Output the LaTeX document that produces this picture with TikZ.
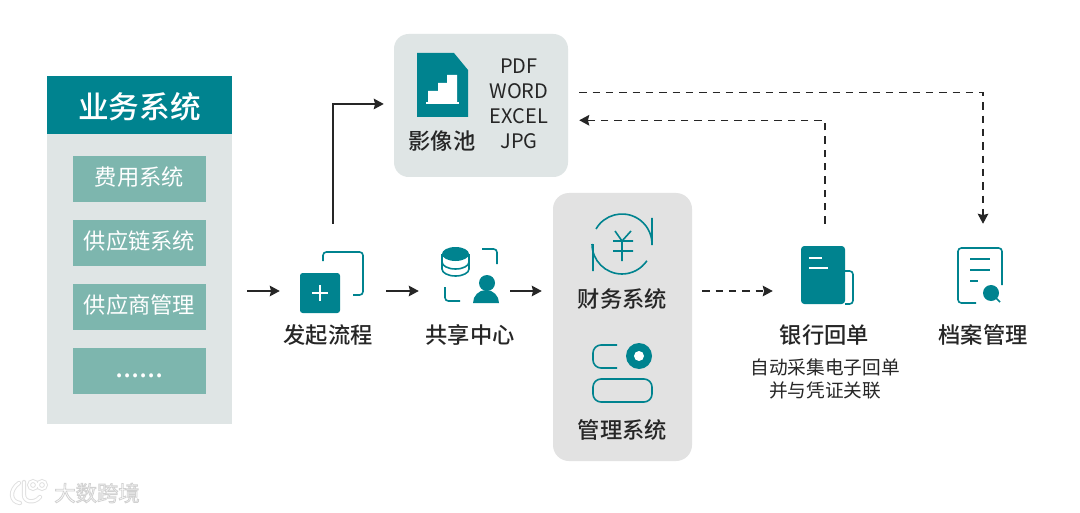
\documentclass[tikz,border=0pt]{standalone}
\usepackage{fontspec}
\setmainfont{Noto Sans CJK SC}
\newfontfamily\medfont{Noto Sans CJK SC Medium}
\definecolor{tealmain}{RGB}{0, 131, 143}
\definecolor{tealsoft}{RGB}{125, 182, 174}
\definecolor{palegrey}{RGB}{223, 229, 229}
\definecolor{softgrey}{RGB}{226, 226, 226}
\definecolor{inkdark}{RGB}{38, 38, 38}
\usetikzlibrary{arrows.meta}
\def\px{0.75pt}

\begin{document}
\begin{tikzpicture}[
    x=0.75pt, y=-0.75pt,
    arr/.style={-{Stealth[length=7.5pt,width=8pt,inset=1pt]}, inkdark, line width=0.9pt},
    dsh/.style={arr, dash pattern=on 5.5pt off 4.5pt},
    slot/.style={minimum width=#1*\px, minimum height=134*\px, inner sep=0pt},
    sub/.style={fill=tealsoft, text=white, minimum width=133*\px, minimum height=46*\px,
                inner sep=0pt, text depth=3.8pt, font=\fontsize{16.7}{18}\selectfont},
    lbl/.style={text=inkdark, inner sep=0pt, font=\fontsize{16.7}{18}\medfont},
    note/.style={text=inkdark, inner sep=0pt, font=\fontsize{14}{16}\selectfont},
    fmt/.style={text=inkdark, inner sep=0pt, font=\fontsize{15}{17}\selectfont},
    ico/.style={draw=tealmain, line width=1.2pt, rounded corners=2.5pt},
    wm/.style={inner sep=0pt, font=\fontsize{16}{18}\selectfont}
  ]
    \fill[white] (0,0) rectangle (1080,513);
    \useasboundingbox (0,0) rectangle (1080,513);

    \node[fill=palegrey, minimum width=185*\px, minimum height=348*\px, inner sep=0pt]
      (sys) at (139.5,250) {};
    \node[fill=tealmain, minimum width=185*\px, minimum height=58*\px, inner sep=0pt]
      (syshead) at (139.5,105) {};
    \node[text=white, inner sep=0pt, font=\fontsize{23}{25}\medfont]
      (systitle) at (139.5,106.5) {业务系统};
    \node[sub] (fee) at (139.5,179) {费用系统};
    \node[sub] (chain) at (139.5,243) {供应链系统};
    \node[sub] (vendor) at (139.5,307) {供应商管理};
    \node[sub, text height=10pt, text depth=0pt, font=\fontsize{22}{24}\selectfont]
      (more) at (139.5,371) {......};

    \node[fill=palegrey, rounded corners=11pt, minimum width=174*\px, minimum height=143*\px]
      (imgbox) at (481,105.5) {};
    \node[fill=softgrey, rounded corners=12pt, minimum width=139*\px, minimum height=268*\px]
      (finbox) at (622.5,327) {};

    \node[slot=200] (sysport) at (147,291) {};
    \node[slot=106] (start) at (333,291) {};
    \node[slot=91] (share) at (464.5,291) {};
    \node[slot=160] (fin) at (622,291) {};
    \node[slot=104] (bank) at (825,291) {};
    \node[slot=40] (arch) at (983,291) {};
    \node[minimum width=195*\px, minimum height=27*\px, inner sep=0pt] (imgport) at (481.5,106.5) {};

    \node[lbl] (imglbl) at (442,141) {影像池};
    \node[fmt] (pdf) at (519,66) {PDF};
    \node[fmt] (word) at (519,91) {WORD};
    \node[fmt] (excel) at (519,116) {EXCEL};
    \node[fmt] (jpg) at (519,141) {JPG};
    \node[lbl] (startlbl) at (328,335) {发起流程};
    \node[lbl] (sharelbl) at (470,335) {共享中心};
    \node[lbl] (finlbl) at (622.5,299) {财务系统};
    \node[lbl] (mgrlbl) at (622.5,430) {管理系统};
    \node[lbl] (banklbl) at (824.5,335) {银行回单};
    \node[note] (banknote) at (825,367) {自动采集电子回单};
    \node[note] (banknotb) at (825,390) {并与凭证关联};
    \node[lbl] (archlbl) at (983,335) {档案管理};

    \fill[tealmain] (417,53) -- (454,53) -- (468,70) -- (468,117) -- (417,117) -- cycle;
    \fill[white] (428,102) -- (428,91) -- (438,91) -- (438,83) -- (447,83) -- (447,75)
      -- (457,75) -- (457,102) -- cycle;
    \draw[white, line width=0.8pt] (426,103) -- (459,103);

    \fill[tealmain, rounded corners=2pt] (300,273) rectangle (340,313);
    \draw[white, line width=1.1pt] (312,293) -- (328,293) (320,285) -- (320,301);
    \draw[ico] (323,261) -- (323,252) -- (363,252) -- (363,295) -- (353,295);

    \fill[tealmain] (442,254) arc[start angle=180, end angle=360, x radius=13.5, y radius=7]
      arc[start angle=0, end angle=180, x radius=13.5, y radius=7] -- cycle;
    \draw[tealmain, line width=1.2pt] (442,254) -- (442,269)
      arc[start angle=180, end angle=0, x radius=13.5, y radius=7] -- (469,254)
      (442,262) arc[start angle=180, end angle=0, x radius=13.5, y radius=7];
    \draw[ico] (482,249) -- (497,249) -- (497,264);
    \draw[ico] (445,287) -- (445,301) -- (460,301);
    \fill[tealmain] (487,283) circle[radius=8];
    \fill[tealmain] (473,303) arc[start angle=180, end angle=360, x radius=13, y radius=13] -- cycle;

    \draw[tealmain, line width=1.2pt] (596,229) arc[start angle=-150, end angle=0, radius=30]
      (592,244) arc[start angle=180, end angle=34, radius=30]
      (652,218) -- (652,245) (593,244) -- (593,271);
    \draw[tealmain, line width=1.2pt] (615,231) -- (622,241) -- (631,231)
      (613,241) -- (633,241) (613,251) -- (633,251) (622,241) -- (622,261);

    \draw[ico, rounded corners=6pt] (617,345) -- (593,345) -- (593,368) -- (617,368);
    \fill[tealmain] (639,356) circle[radius=13];
    \fill[white] (639,356) circle[radius=5];
    \draw[ico, rounded corners=6pt] (593,379) rectangle (652,402);

    \fill[tealmain, rounded corners=2.5pt] (801,246) rectangle (845,304);
    \draw[white, line width=1.1pt] (809,258) -- (822,258) (809,268) -- (828,268);
    \draw[ico] (845,271) -- (853,271) -- (853,304) -- (845,304);

    \draw[ico] (976,303) -- (958,303) -- (958,248) -- (1002,248) -- (1002,285);
    \draw[tealmain, line width=1.2pt] (970,259) -- (990,259) (970,270) -- (990,270) (970,281) -- (978,281);
    \fill[tealmain] (991,293) circle[radius=8];
    \draw[tealmain, line width=1.2pt] (996,298) -- (1000,302);

    \draw[arr] (sysport.east) -- (start.west);
    \draw[arr] (start.east) -- (share.west);
    \draw[arr] (share.east) -- (fin.west);
    \draw[dsh] (fin.east) -- (bank.west);
    \draw[arr] (start.north) |- ([yshift=1.9pt]imgport.west);
    \draw[dsh] (imgport.north east) -| (arch.north);
    \draw[dsh] (bank.north) |- (imgport.south east);

    \draw[black!12, line width=3.2pt, line cap=round]
      (19,483) .. controls (9,490) and (10,502) .. (20,503)
      (24,482) -- (24,495) .. controls (24,502) and (34,504) .. (40,497);
    \draw[white, line width=1.8pt, line cap=round]
      (19,483) .. controls (9,490) and (10,502) .. (20,503)
      (24,482) -- (24,495) .. controls (24,502) and (34,504) .. (40,497);
    \draw[black!12, line width=2.8pt] (33,485) circle[radius=4] (42,485) circle[radius=4];
    \draw[white, line width=1.4pt] (33,485) circle[radius=4] (42,485) circle[radius=4];
    \node[wm, text=white] (mark) at (97,493)
      {\special{pdf:code q 2 Tr 0.6 w 0.82 G}大数跨境\special{pdf:code Q}};
  \end{tikzpicture}
\end{document}
